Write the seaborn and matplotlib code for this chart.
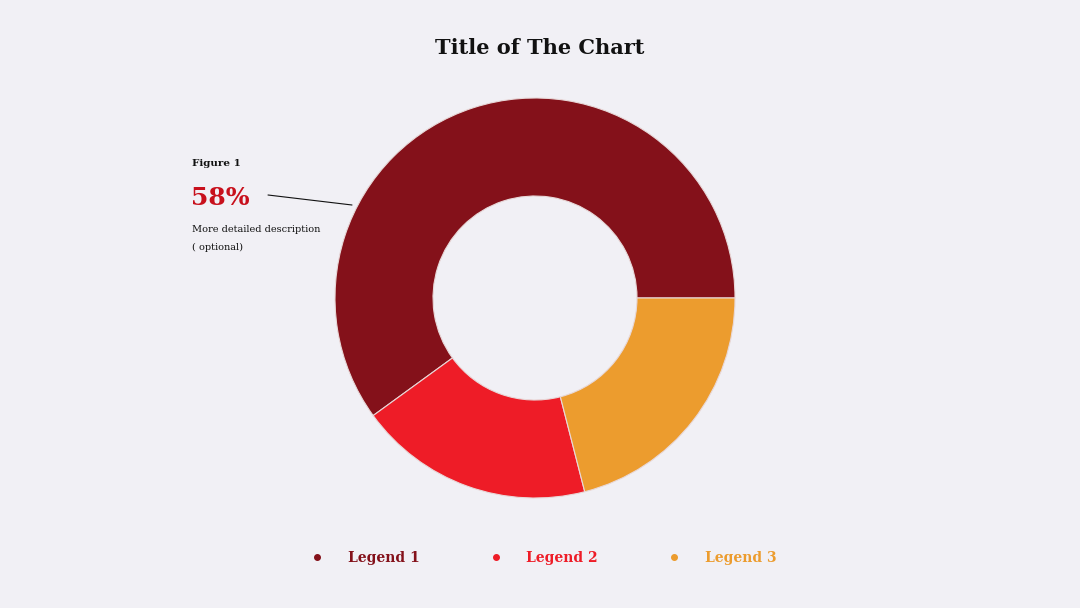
import seaborn as sns
import matplotlib.pyplot as plt
from matplotlib.lines import Line2D

# Chart data
labels = ["Legend 1", "Legend 2", "Legend 3"]
values = [60, 19, 21]
colors = ["#84111A", "#EE1C27", "#EC9C2E"]
bg = "#F1F0F5"

sns.set_style("white")
fig = plt.figure(figsize=(10.8, 6.08), dpi=100, facecolor=bg)
ax = fig.add_axes([0, 0, 1, 1])
ax.set_facecolor(bg)
ax.set_xlim(0, 1080)
ax.set_ylim(0, 608)
ax.set_aspect("equal")
ax.axis("off")

# Donut
ax.pie(values, colors=colors, startangle=0, counterclock=True,
       center=(535, 310), radius=200,
       wedgeprops=dict(width=98, edgecolor="#e8d8d8", linewidth=0.8))
ax.set_xlim(0, 1080)
ax.set_ylim(0, 608)

font = "DejaVu Serif"
ax.text(540, 560, "Title of The Chart", ha="center", va="center",
        fontsize=15, fontweight="bold", family=font, color="#111111")

# Callout
ax.text(192, 445, "Figure 1", fontsize=7.5, fontweight="bold", family=font,
        va="center", color="#111111")
ax.text(191, 410, "58%", fontsize=18, fontweight="bold", family=font,
        va="center", color="#C8101C")
ax.text(192, 378, "More detailed description", fontsize=7, family=font,
        va="center", color="#111111")
ax.text(192, 361, "( optional)", fontsize=7, family=font,
        va="center", color="#111111")
ax.plot([268, 352], [413, 403], color="#111111", lw=0.8)

# Legend
handles = [Line2D([0], [0], marker="o", linestyle="none", markersize=4,
                  color=c, label=l) for l, c in zip(labels, colors)]
leg = ax.legend(handles=handles, loc="center", bbox_to_anchor=(0.5, 50 / 608),
                ncol=3, frameon=False, columnspacing=4.5, handletextpad=1.2,
                labelcolor=colors, prop=dict(family=font, weight="bold", size=10))

fig.savefig("out.png", dpi=100, facecolor=bg)
